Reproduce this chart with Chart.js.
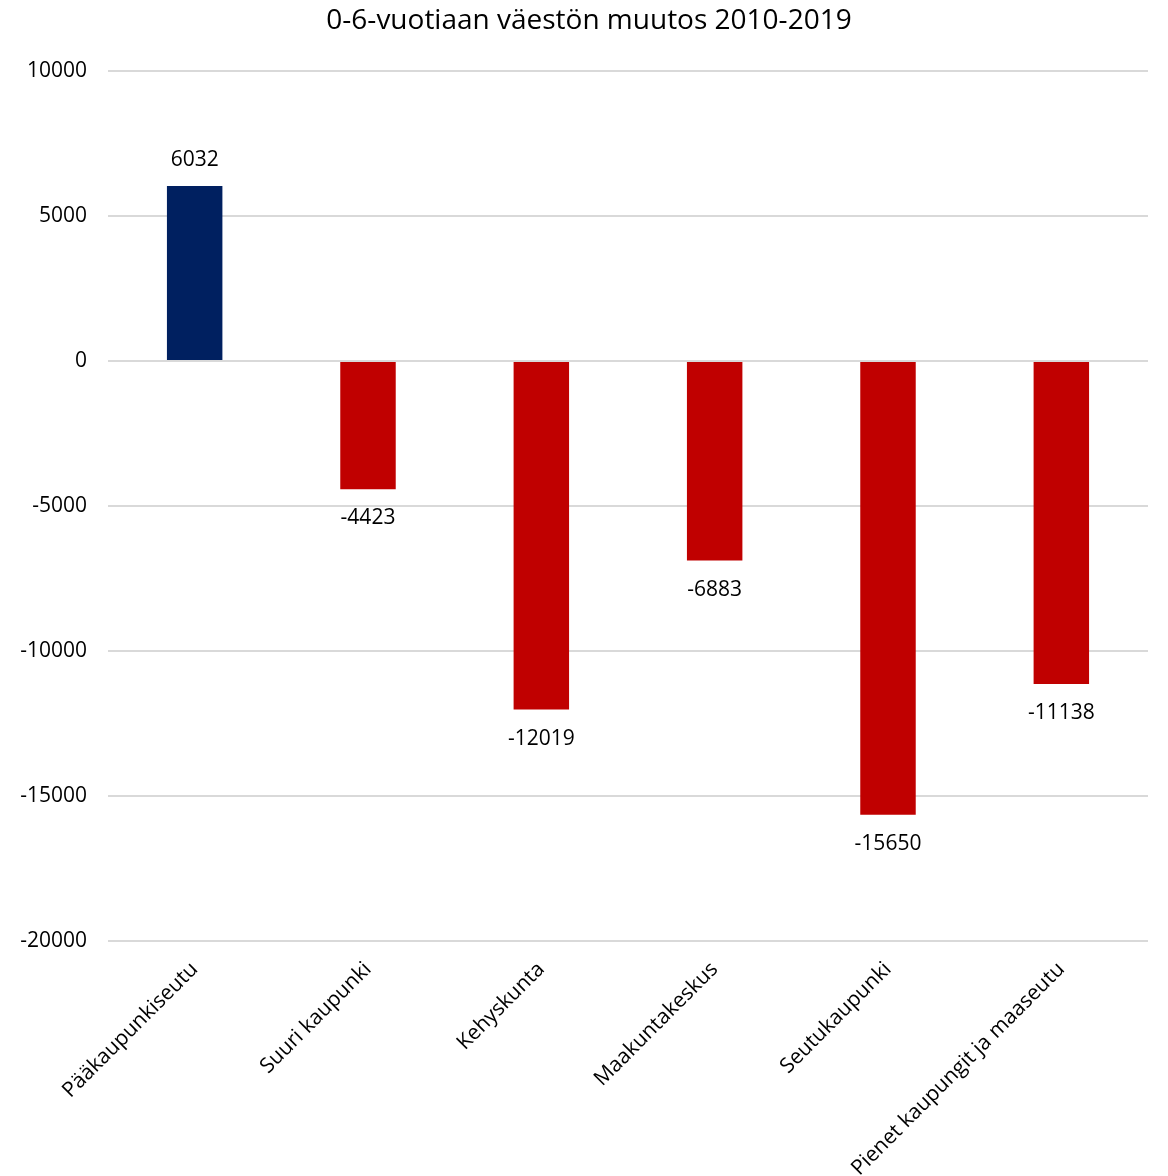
<!DOCTYPE html>
<html>
<head>
<meta charset="utf-8">
<script src="https://cdn.jsdelivr.net/npm/chart.js@4/dist/chart.umd.min.js"></script>
<style>
  html, body { margin: 0; padding: 0; background: #fff; }
  #wrap { width: 1168px; height: 1176px; }
</style>
</head>
<body>
<div id="wrap"><canvas id="chart" width="1168" height="1176"></canvas></div>
<script>
const categories = ["Pääkaupunkiseutu", "Suuri kaupunki", "Kehyskunta", "Maakuntakeskus", "Seutukaupunki", "Pienet kaupungit ja maaseutu"];
const values = [6032, -4423, -12019, -6883, -15650, -11138];
const yTicks = [10000, 5000, 0, -5000, -10000, -15000, -20000];
const chartTitle = "0-6-vuotiaan väestön muutos 2010-2019";

const fontName = "'Open Sans', 'Noto Sans', sans-serif";

// value labels above positive bars, below negative ones; title drawn a bit right of centre like the original
const valueLabels = {
    id: "valueLabels",
    afterDatasetsDraw(chart) {
        const ctx = chart.ctx;
        const meta = chart.getDatasetMeta(0);
        ctx.save();
        ctx.font = "21px " + fontName;
        ctx.fillStyle = "#000";
        ctx.textAlign = "center";
        ctx.textBaseline = "middle";
        meta.data.forEach((bar, i) => {
            const v = values[i];
            if (v >= 0) {
                ctx.fillText(String(v), bar.x, bar.y - 26);
            } else {
                ctx.fillText(String(v), bar.x, bar.y + 29);
            }
        });
        ctx.font = "28px " + fontName;
        ctx.fillText(chartTitle, 589, 21);
        ctx.restore();
    }
};

new Chart(document.getElementById("chart"), {
    type: "bar",
    data: {
        labels: categories,
        datasets: [{
            data: values,
            backgroundColor: values.map(v => v >= 0 ? "#002060" : "#C00000"),
            barPercentage: 0.32,
            categoryPercentage: 1.0
        }]
    },
    options: {
        responsive: false,
        animation: false,
        layout: { padding: { top: 71, right: 20, left: 0, bottom: 0 } },
        plugins: {
            legend: { display: false },
            tooltip: { enabled: false },
            title: { display: false }
        },
        scales: {
            x: {
                grid: { display: false },
                border: { display: false },
                afterFit: axis => { axis.height = 235; },
                ticks: {
                    color: "#000",
                    font: { family: fontName, size: 21 },
                    maxRotation: 45,
                    minRotation: 45,
                    padding: 8
                }
            },
            y: {
                min: -20000,
                max: 10000,
                afterBuildTicks: axis => { axis.ticks = yTicks.map(v => ({ value: v })); },
                afterFit: axis => { axis.width = 108; },
                grid: { color: "#d9d9d9", lineWidth: 2, drawTicks: false },
                border: { display: false },
                ticks: {
                    color: "#000",
                    font: { family: fontName, size: 21 },
                    padding: 21,
                    callback: v => String(v)
                }
            }
        }
    },
    plugins: [valueLabels]
});
</script>
</body>
</html>
